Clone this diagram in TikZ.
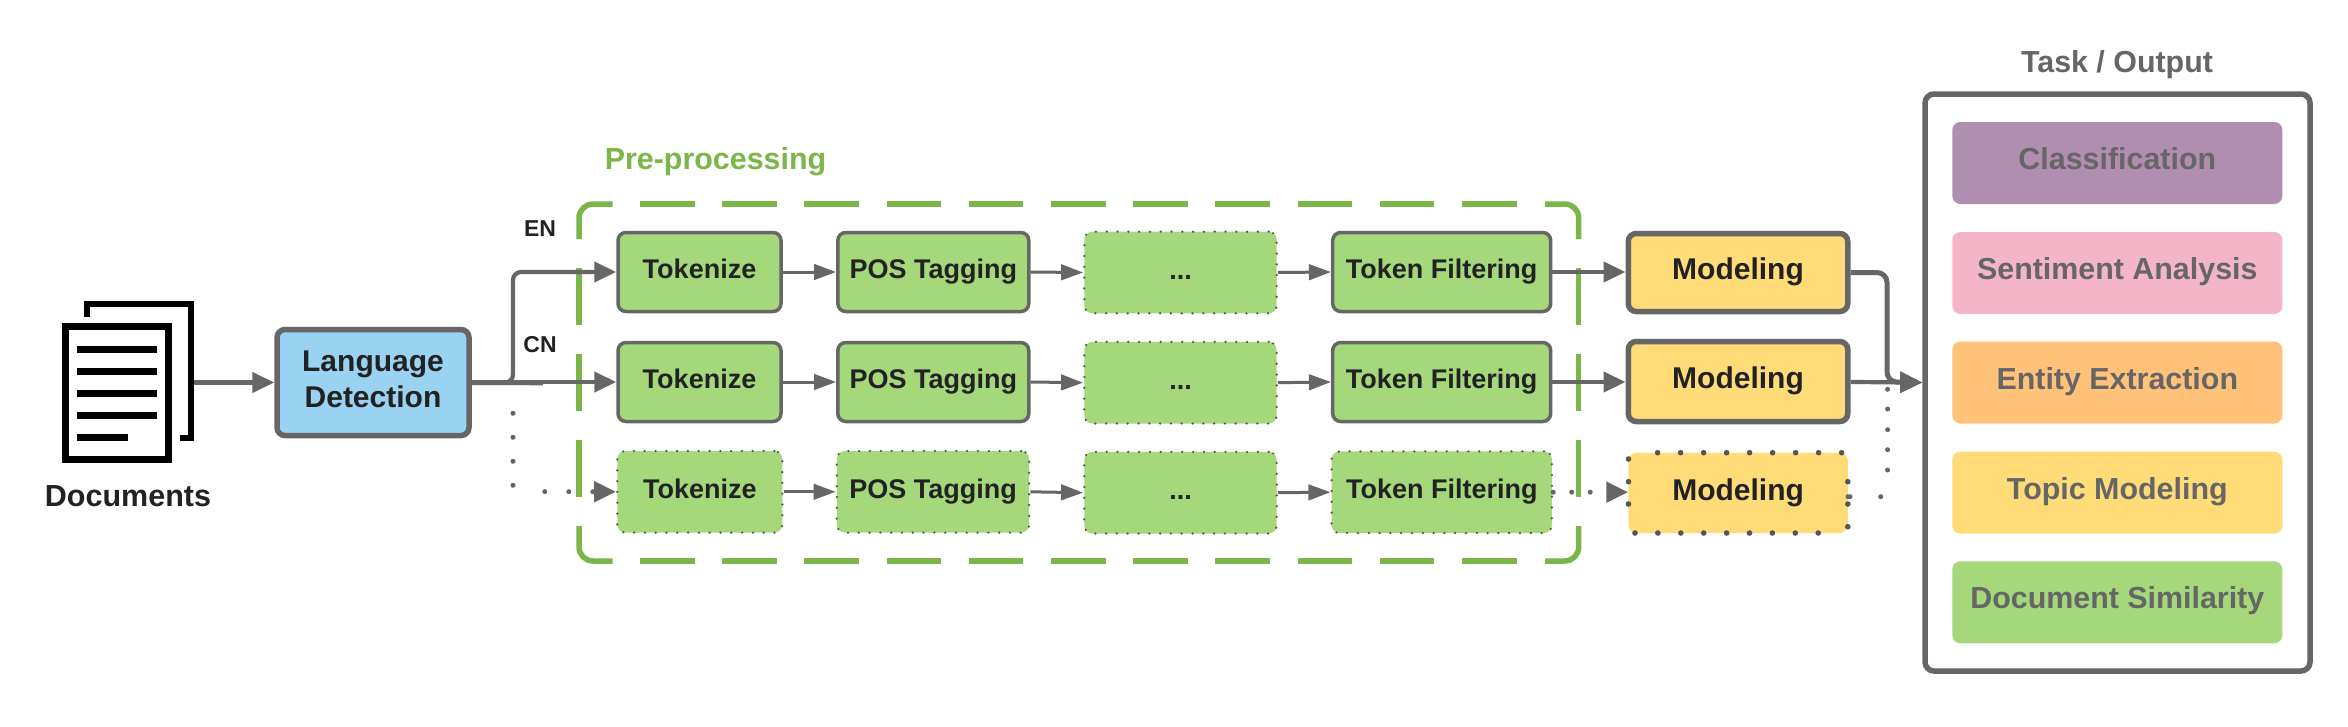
\documentclass[tikz,border=0pt]{standalone}
\usepackage{fontspec}
\setmainfont{Liberation Sans}
\usetikzlibrary{arrows.meta}
\definecolor{linegray}{HTML}{666666}
\definecolor{dotgray}{HTML}{555555}
\definecolor{inkdark}{HTML}{222222}
\definecolor{procgreen}{HTML}{A4D87A}
\definecolor{framegreen}{HTML}{7AB648}
\definecolor{langblue}{HTML}{9AD2F2}
\definecolor{modelyellow}{HTML}{FFDC78}
\definecolor{taskpurple}{HTML}{B08EB0}
\definecolor{taskpink}{HTML}{F5B5C9}
\definecolor{taskorange}{HTML}{FFC278}
\tikzset{
  fnt/.style={font=\fontsize{#1}{#1}\selectfont\bfseries},
  procbase/.style={rectangle, rounded corners=8pt, fill=procgreen, text=inkdark, fnt=27, inner sep=0pt, text height=21.5pt, text depth=8pt},
  procsolid/.style={procbase, draw=linegray, line width=3.5pt, minimum height=79pt},
  procdot/.style={procbase, draw=dotgray, line width=2.5pt, line cap=round, dash pattern=on 0pt off 10.8pt, minimum height=81.6pt},
  modelbase/.style={rectangle, rounded corners=8pt, fill=modelyellow, text=inkdark, fnt=30, inner sep=0pt, text height=23pt, text depth=8.5pt},
  modelsolid/.style={modelbase, draw=linegray, line width=5.5pt, minimum width=219.5pt, minimum height=78pt},
  modelplain/.style={modelbase, minimum width=219.3pt, minimum height=80.3pt},
  taskitem/.style={rectangle, rounded corners=8pt, text=linegray, fnt=30.4, inner sep=0pt, minimum width=330pt, minimum height=82pt, text height=23pt, text depth=10pt},
  bigarrow/.style={draw=linegray, line width=4.2pt, -{Triangle[length=22pt,width=20pt,fill=linegray]}},
  smallarrow/.style={draw=linegray, line width=3pt, -{Triangle[length=22pt,width=15.5pt,fill=linegray]}},
  dotarrow/.style={draw=linegray, line width=5pt, line cap=round, -{Triangle[length=22pt,width=20pt,fill=linegray]}},
  framestroke/.style={draw=framegreen, line width=5.5pt}
}
\begin{document}
\begin{tikzpicture}[x=1pt,y=-1pt]
\useasboundingbox (0,0) rectangle (2348,726);
\fill[white] (0,0) rectangle (2348,726);

% Pre-processing dashed frame
\draw[framestroke, rounded corners=14pt] (579,239) -- (579,204) -- (612.7,204);
\draw[framestroke, rounded corners=14pt] (1545,204) -- (1578.7,204) -- (1578.7,239);
\draw[framestroke, rounded corners=14pt] (579,526) -- (579,561) -- (612.7,561);
\draw[framestroke, rounded corners=14pt] (1545,561) -- (1578.7,561) -- (1578.7,526);
\draw[framestroke, dash pattern=on 54.6pt off 27.6pt] (640,204) -- (1517.5,204);
\draw[framestroke, dash pattern=on 54.6pt off 27.6pt] (640,561) -- (1517.5,561);
\draw[framestroke, dash pattern=on 57pt off 29pt] (579,268.3) -- (579,497);
\draw[framestroke, dash pattern=on 57pt off 29pt] (1578.7,268.3) -- (1578.7,497);
\node[text=framegreen, fnt=30.4, inner sep=0pt] (pre) at (715.5,162) {Pre-processing};

% Documents icon
\draw[black, line width=6pt] (87,317) -- (87,304) -- (191,304) -- (191,438) -- (180,438);
\draw[black, line width=7pt, fill=white] (65.5,326.5) rectangle (168.5,459.5);
\foreach \yy in {349,371,393.5,415} \fill[black] (76.5,\yy-3.5) rectangle (157,\yy+3.5);
\fill[black] (76.5,433.5) rectangle (127.5,440.5);
\coordinate (docR) at (194,382.5);
\node[text=inkdark, fnt=30.5, inner sep=0pt] (doclabel) at (128,496.5) {Documents};

% Language detection
\node[rectangle, rounded corners=8pt, fill=langblue, draw=linegray, line width=5.5pt, text=inkdark, inner sep=0pt, minimum width=192pt, minimum height=106pt, align=center, font=\fontsize{30}{36}\selectfont\bfseries, text depth=6pt] (LD) at (373,382.5) {Language\\Detection};

% Row labels
\node[text=inkdark, fnt=23, inner sep=0pt] (en) at (540,229) {EN};
\node[text=inkdark, fnt=23, inner sep=0pt] (cn) at (540,344.5) {CN};

% Row 1
\node[procsolid, minimum width=163pt] (T1) at (699.5,272) {Tokenize};
\node[procsolid, minimum width=191pt] (P1) at (933.3,272) {POS Tagging};
\node[procdot, minimum width=192.4pt] (D1) at (1180.5,272.5) {...};
\node[procsolid, minimum width=218pt] (F1) at (1441.7,272) {Token Filtering};
\node[modelsolid] (M1) at (1738,272.5) {Modeling};
% Row 2
\node[procsolid, minimum width=163pt] (T2) at (699.5,382) {Tokenize};
\node[procsolid, minimum width=191pt] (P2) at (933.3,382) {POS Tagging};
\node[procdot, minimum width=192.4pt] (D2) at (1180.5,382.7) {...};
\node[procsolid, minimum width=218pt] (F2) at (1441.7,382) {Token Filtering};
\node[modelsolid, minimum height=80pt] (M2) at (1738,381.5) {Modeling};
% Row 3
\node[procdot, minimum width=165pt] (T3) at (699.8,491.8) {Tokenize};
\node[procdot, minimum width=192.3pt] (P3) at (933,491.8) {POS Tagging};
\node[procdot, minimum width=192.4pt] (D3) at (1180.5,492.7) {...};
\node[procdot, minimum width=220.3pt] (F3) at (1441.8,492.2) {Token Filtering};
\node[modelplain] (M3) at (1738.1,492.9) {Modeling};
% Dots round the third Modeling box
\foreach \xx in {0,...,8} \fill[dotgray] (1657.6+23*\xx,452.7) circle (2.8pt);
\foreach \xx in {0,...,8} \fill[dotgray] (1635+22.9*\xx,533) circle (2.8pt);
\foreach \yy in {459,481.7,504} \fill[dotgray] (1628.5,\yy) circle (2.8pt);
\foreach \yy in {481.7,504,526.7} \fill[dotgray] (1847.8,\yy) circle (2.8pt);

% Task / Output
\node[text=linegray, fnt=30.4, inner sep=0pt] (tasktitle) at (2117,65) {Task / Output};
\node[rectangle, rounded corners=9pt, draw=linegray, line width=5.5pt, fill=white, minimum width=385pt, minimum height=577pt] (task) at (2117.5,382.5) {};
\node[taskitem, fill=taskpurple] (t1) at (2117.3,163) {Classification};
\node[taskitem, fill=taskpink] (t2) at (2117.3,273) {Sentiment Analysis};
\node[taskitem, fill=taskorange] (t3) at (2117.3,382.5) {Entity Extraction};
\node[taskitem, fill=modelyellow] (t4) at (2117.3,492.7) {Topic Modeling};
\node[taskitem, fill=procgreen] (t5) at (2117.3,602.3) {Document Similarity};

% Connectors
\draw[bigarrow] (docR) -- (LD.west);
\coordinate (split) at (513,382.5);
\coordinate (thickEnd) at (543,382.8);
\draw[bigarrow, rounded corners=8pt] (LD.east) -- (split) |- (T1.west);
\draw[draw=linegray, line width=5pt] (LD.east) -- (thickEnd);
\draw[bigarrow] (LD.east |- T2.west) -- (T2.west);
\draw[dotarrow, dash pattern=on 0pt off 72pt on 0pt off 24pt on 0pt off 24pt on 0pt off 24pt on 0pt off 38pt on 0pt off 24pt on 0pt off 24pt on 0pt off 200pt]
  (LD.east) -- (split) -- (513,491.5) -- (T3.west);

\foreach \a/\b in {T1/P1,P1/D1,D1/F1,T2/P2,P2/D2,D2/F2,T3/P3,P3/D3,D3/F3}
  \draw[smallarrow] (\a.east) -- (\b.west);

\draw[bigarrow] (F1.east) -- (M1.west |- F1.east);
\draw[bigarrow] (F2.east) -- (M2.west |- F2.east);
\draw[dotarrow, dash pattern=on 0pt off 18.5pt] (F3.east) -- (M3.west |- F3.east);

\coordinate (join) at (1887,382);
\draw[bigarrow, line width=5pt, rounded corners=10pt] (M1.east) -| (join) -- (task.west);
\draw[bigarrow] (M2.east |- join) -- (task.west);
\coordinate (m3out) at (1848,496.7);
\draw[dotarrow, dash pattern=on 0pt off 2pt on 0pt off 30.7pt on 0pt off 33.6pt on 0pt off 20.3pt on 0pt off 20pt on 0pt off 20.7pt on 0pt off 19.7pt on 0pt off 100pt]
  (m3out) -- (1887.6,496.7) -- (1887.6,382) -- (task.west);
\end{tikzpicture}
\end{document}
